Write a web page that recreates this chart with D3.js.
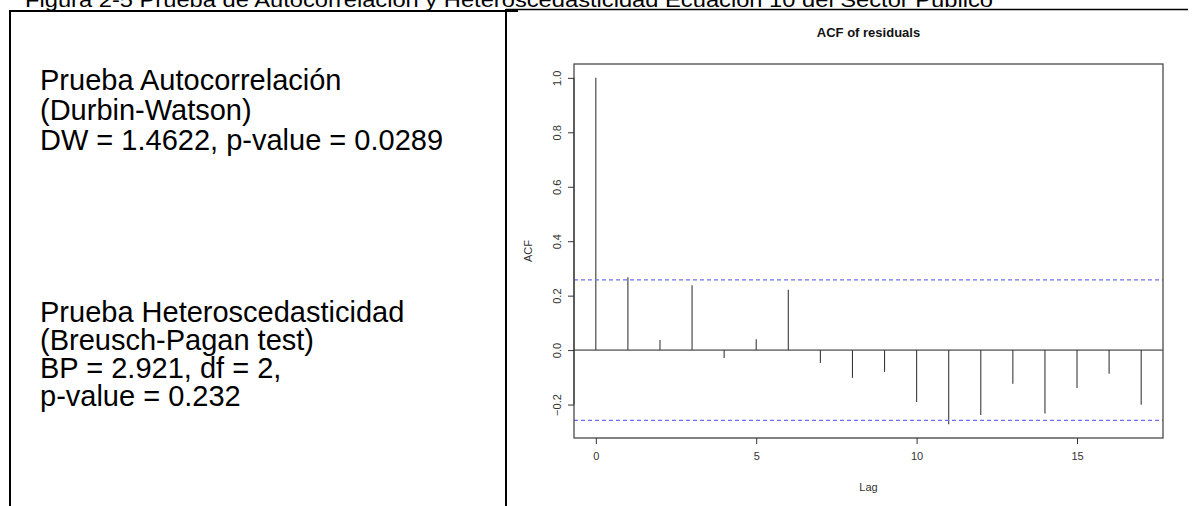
<!DOCTYPE html>
<html>
<head>
<meta charset="utf-8">
<script src="https://cdn.jsdelivr.net/npm/d3@7"></script>
<style>
  html, body { margin: 0; padding: 0; background: #fff; }
  svg { display: block; }
</style>
</head>
<body>
<svg id="chart" width="1193" height="506"></svg>
<script>
// ---- data ----
const figureTitle = "Figura 2-5 Prueba de Autocorrelación y Heteroscedasticidad Ecuación 10 del Sector Público";
const block1 = ["Prueba Autocorrelación", "(Durbin-Watson)", "DW = 1.4622, p-value = 0.0289"];
const block2 = ["Prueba Heteroscedasticidad", "(Breusch-Pagan test)", "BP = 2.921, df = 2,", "p-value = 0.232"];
const chartTitle = "ACF of residuals";
const lags = [0, 1, 2, 3, 4, 5, 6, 7, 8, 9, 10, 11, 12, 13, 14, 15, 16, 17];
const acfValues = [1.0, 0.268, 0.037, 0.238, -0.029, 0.040, 0.222, -0.047, -0.102, -0.080, -0.191, -0.272, -0.238, -0.124, -0.233, -0.139, -0.087, -0.201];
const ciBound = 0.258;
const xTicks = [0, 5, 10, 15];
const yTicks = [-0.2, 0.0, 0.2, 0.4, 0.6, 0.8, 1.0];

// ---- layout ----
const svg = d3.select("#chart");
const font = "'Liberation Sans', Arial, Helvetica, sans-serif";
const plot = { left: 574, right: 1163, top: 64, bottom: 438 };

// figure caption (partially cut at top)
svg.append("text")
  .attr("x", 25).attr("y", 7)
  .attr("font-family", font).attr("font-size", 21)
  .attr("textLength", 968).attr("lengthAdjust", "spacingAndGlyphs")
  .attr("fill", "#000")
  .text(figureTitle);

// table borders
svg.append("line").attr("x1", 9).attr("x2", 518).attr("y1", 11).attr("y2", 11)
  .attr("stroke", "#000").attr("stroke-width", 2);
svg.append("line").attr("x1", 506).attr("x2", 1188).attr("y1", 9.5).attr("y2", 9.5)
  .attr("stroke", "#000").attr("stroke-width", 1.6);
svg.append("line").attr("x1", 10).attr("x2", 10).attr("y1", 10).attr("y2", 506)
  .attr("stroke", "#000").attr("stroke-width", 2);
svg.append("line").attr("x1", 506).attr("x2", 506).attr("y1", 9).attr("y2", 506)
  .attr("stroke", "#000").attr("stroke-width", 2);

// left text blocks
function textBlock(lines, x, y0, dy) {
  svg.append("g").selectAll("text").data(lines).join("text")
    .attr("x", x).attr("y", (d, i) => y0 + i * dy)
    .attr("font-family", font).attr("font-size", 29).attr("fill", "#000")
    .text(d => d);
}
textBlock(block1, 40, 90, 30);
textBlock(block2, 40, 321.5, 28);

// ---- ACF plot ----
const xExt = d3.extent(lags);
const xPad = (xExt[1] - xExt[0]) * 0.04;
const x = d3.scaleLinear().domain([xExt[0] - xPad, xExt[1] + xPad]).range([plot.left, plot.right]);
const yMin = d3.min([d3.min(acfValues), -ciBound]);
const yMax = d3.max([d3.max(acfValues), ciBound]);
const yPad = (yMax - yMin) * 0.04;
const y = d3.scaleLinear().domain([yMin - yPad, yMax + yPad]).range([plot.bottom, plot.top]);

// zero line
svg.append("line")
  .attr("x1", plot.left).attr("x2", plot.right)
  .attr("y1", y(0)).attr("y2", y(0))
  .attr("stroke", "#808080").attr("stroke-width", 1.6);

// spikes
svg.append("g").selectAll("line").data(lags).join("line")
  .attr("x1", d => x(d)).attr("x2", d => x(d))
  .attr("y1", y(0)).attr("y2", (d, i) => y(acfValues[i]))
  .attr("stroke", "#3a3a3a").attr("stroke-width", 1.1);

// confidence bounds
[ciBound, -ciBound].forEach(c => {
  svg.append("line")
    .attr("x1", plot.left).attr("x2", plot.right)
    .attr("y1", y(c)).attr("y2", y(c))
    .attr("stroke", "#6f6ff5").attr("stroke-width", 1.2)
    .attr("stroke-dasharray", "4,3");
});

// box
svg.append("rect")
  .attr("x", plot.left).attr("y", plot.top)
  .attr("width", plot.right - plot.left).attr("height", plot.bottom - plot.top)
  .attr("fill", "none").attr("stroke", "#4a4a4a").attr("stroke-width", 1.3);

// x axis
const xAxis = d3.axisBottom(x).tickValues(xTicks).tickSize(6).tickPadding(8).tickFormat(d3.format("d"));
const gx = svg.append("g").attr("transform", `translate(0,${plot.bottom})`).call(xAxis);
gx.select(".domain").attr("d", `M${x(xTicks[0])},0H${x(xTicks[xTicks.length - 1])}`)
  .attr("stroke", "#808080").attr("stroke-width", 1.6);
gx.selectAll(".tick line").attr("stroke", "#333");
gx.selectAll(".tick text").attr("font-family", font).attr("font-size", 11).attr("fill", "#333");

// y axis
const yAxis = d3.axisLeft(y).tickValues(yTicks).tickSize(6).tickFormat(d3.format(".1f"));
const gy = svg.append("g").attr("transform", `translate(${plot.left},0)`).call(yAxis);
gy.select(".domain").attr("d", `M0,${y(yTicks[0])}V${y(yTicks[yTicks.length - 1])}`)
  .attr("stroke", "#333").attr("stroke-width", 1);
gy.selectAll(".tick line").attr("stroke", "#333");
gy.selectAll(".tick text")
  .attr("font-family", font).attr("font-size", 11).attr("fill", "#333")
  .attr("x", null).attr("dy", null)
  .attr("text-anchor", "middle")
  .attr("transform", "translate(-17,0) rotate(-90)")
  .attr("dy", "0.35em");

// titles
svg.append("text")
  .attr("x", (plot.left + plot.right) / 2).attr("y", 37)
  .attr("text-anchor", "middle")
  .attr("font-family", font).attr("font-size", 13).attr("font-weight", "bold").attr("fill", "#111")
  .text(chartTitle);
svg.append("text")
  .attr("x", (plot.left + plot.right) / 2).attr("y", 491)
  .attr("text-anchor", "middle")
  .attr("font-family", font).attr("font-size", 11).attr("fill", "#333")
  .text("Lag");
svg.append("text")
  .attr("transform", `translate(532,${(plot.top + plot.bottom) / 2}) rotate(-90)`)
  .attr("text-anchor", "middle")
  .attr("font-family", font).attr("font-size", 11).attr("fill", "#333")
  .text("ACF");
</script>
</body>
</html>
